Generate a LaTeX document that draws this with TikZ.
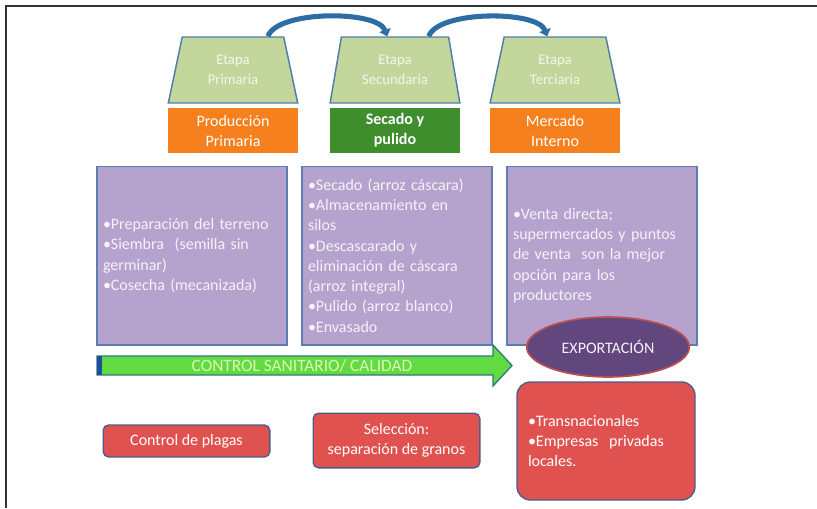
\documentclass[tikz,border=0pt]{standalone}
\usepackage{fontspec}
\setmainfont{Carlito}
\usetikzlibrary{arrows.meta,positioning,shapes.geometric}
\definecolor{stagegreen}{HTML}{C3D69B}
\definecolor{stageline}{HTML}{4F7FA6}
\definecolor{stagetext}{HTML}{F2F7EA}
\definecolor{headorange}{HTML}{F7801E}
\definecolor{headgreen}{HTML}{3F8E2E}
\definecolor{taskpurple}{HTML}{B5A2CD}
\definecolor{taskline}{HTML}{5B7DB1}
\definecolor{tasktext}{HTML}{F6F2FA}
\definecolor{exportfill}{HTML}{62477E}
\definecolor{exportline}{HTML}{C0504D}
\definecolor{notered}{HTML}{E0524F}
\definecolor{noteline}{HTML}{4A5D8A}
\definecolor{bandgreen}{HTML}{62DA42}
\definecolor{bandline}{HTML}{2E7A80}
\definecolor{bandblue}{HTML}{1F4E9A}
\definecolor{bandtext}{HTML}{DDF7B4}
\definecolor{flowblue}{HTML}{2E6DA4}
\begin{document}
\begin{tikzpicture}[x=0.75pt, y=-0.75pt,
  stagebox/.style={trapezium, trapezium angle=76.8, trapezium stretches=true, draw=stageline, line width=1.1pt, fill=stagegreen, minimum width=97.5pt, minimum height=49.5pt, inner sep=0pt, text=stagetext, align=center, font=\fontsize{11}{15}\selectfont},
  headbox/.style={fill=headorange, minimum width=97.5pt, minimum height=33.75pt, inner sep=0pt, text=white, align=center, font=\fontsize{12}{15}\selectfont},
  taskbox/.style={draw=taskline, line width=1pt, fill=taskpurple, text width=133.5pt, minimum height=134pt, inner xsep=4.5pt, align=left, text=tasktext, font=\fontsize{12}{15.2}\selectfont},
  notebox/.style={draw=noteline, line width=1pt, fill=notered, rounded corners=4pt, minimum width=125pt, inner sep=2pt, text=white, align=center, font=\fontsize{12}{15}\selectfont},
  flow/.style={draw=flowblue, line width=3.8pt, -{Triangle[length=5pt, width=9pt]}}]
\useasboundingbox (0,0) rectangle (817,508);
\draw[line width=1.5pt, black!80] (6,508) -- (6,6) -- (817,6);
% stages
\node[stagebox] (stage1) at (233,70) {Etapa\\ Primaria};
\node[stagebox] (stage2) at (395,70) {Etapa\\ Secundaria};
\node[stagebox] (stage3) at (555,70) {Etapa\\ Terciaria};
\node[headbox, below=3pt of stage1] (head1) {Producción\\ Primaria};
\node[headbox, below=3pt of stage2, fill=headgreen, font=\fontsize{12}{15}\selectfont\bfseries] (head2) {Secado y\\ pulido};
\node[headbox, below=3pt of stage3] (head3) {Mercado\\ Interno};
\draw[flow] (stage1.44) to[out=70, in=110, looseness=0.6] (stage2.103);
\draw[flow] (stage2.45) to[out=70, in=110, looseness=0.6] (stage3.103);
% activities
\node[taskbox] (task1) at (192,255.5) {•Preparación del terreno\\ •Siembra \ (semilla sin\\ germinar)\\ •Cosecha (mecanizada)};
\node[taskbox] (task2) at (397,255.5) {•Secado (arroz cáscara)\\ •Almacenamiento en\\ silos\\ •Descascarado y\\ eliminación de cáscara\\ (arroz integral)\\ •Pulido (arroz blanco)\\ •Envasado};
\node[taskbox] (task3) at (602,255.5) {•Venta directa;\\ supermercados y puntos\\ de venta \ son la mejor\\ opción para los\\ productores};
\node[ellipse, draw=exportline, line width=1.2pt, fill=exportfill, minimum width=122pt, minimum height=45pt, text=tasktext, font=\fontsize{12}{15}\selectfont] (export) at (608,347) {EXPORTACIÓN};
% control band
\draw[bandline, line width=1pt, fill=bandgreen] (97,356) -- (493,356) -- (493,345) -- (512,365.5) -- (493,386) -- (493,375) -- (97,375) -- cycle;
\fill[bandblue] (97,356) rectangle (101.5,375);
\node[text=bandtext, font=\fontsize{13}{15}\selectfont] (band) at (302,366) {CONTROL SANITARIO/ CALIDAD};
% notes
\node[notebox, minimum height=24pt] (pest) at (186.5,441) {Control de plagas};
\node[notebox, minimum height=41pt] (select) at (396.5,440.5) {Selección:\\ separación de granos};
\node[notebox, rounded corners=10pt, minimum width=133.5pt, minimum height=88.5pt, text width=117pt, inner xsep=8pt, align=left] (buyers) at (606,441) {•Transnacionales\\ •Empresas \ privadas\\ locales.};
\end{tikzpicture}
\end{document}
